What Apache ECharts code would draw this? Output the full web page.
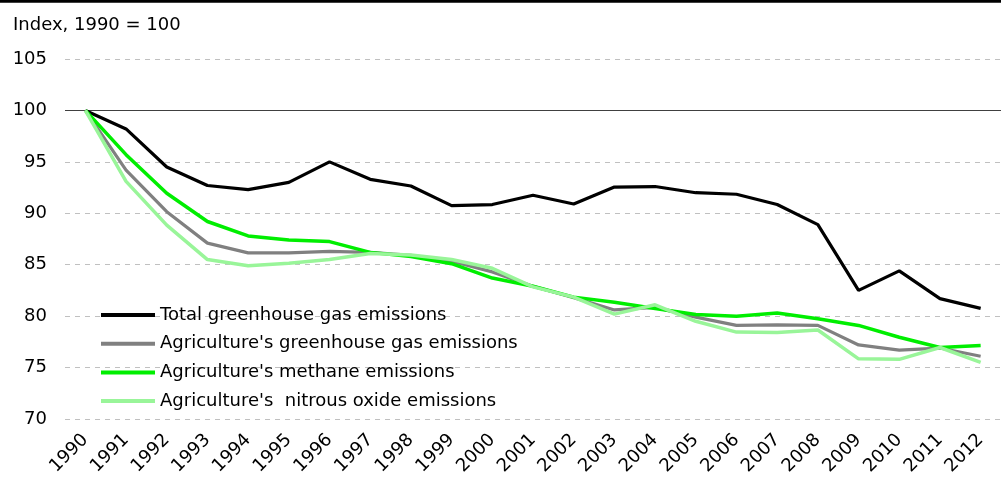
<!DOCTYPE html>
<html>
<head>
<meta charset="utf-8">
<script src="https://cdn.jsdelivr.net/npm/echarts@6/dist/echarts.min.js"></script>
<style>html,body{margin:0;padding:0;background:#fff;}#c{width:1001px;height:479px;}</style>
</head>
<body>
<div id="c"></div>
<script>
const years = ['1990','1991','1992','1993','1994','1995','1996','1997','1998','1999','2000','2001','2002','2003','2004','2005','2006','2007','2008','2009','2010','2011','2012'];
const totalGHG = [100,98.2,94.5,92.7,92.3,93.0,95.0,93.3,92.65,90.75,90.85,91.75,90.9,92.55,92.6,92.0,91.85,90.85,88.9,82.5,84.4,81.7,80.75];
const agriGHG = [100,94.2,90.15,87.1,86.15,86.15,86.3,86.2,85.9,85.35,84.3,82.9,81.8,80.6,80.85,79.9,79.1,79.15,79.1,77.2,76.7,76.9,76.1];
const agriMethane = [100,95.7,91.95,89.2,87.8,87.4,87.25,86.2,85.8,85.1,83.7,82.9,81.85,81.35,80.75,80.15,80.0,80.3,79.75,79.1,77.95,76.95,77.15];
const agriN2O = [100,93.1,88.85,85.5,84.9,85.15,85.5,86.1,85.95,85.5,84.65,82.85,81.85,80.2,81.1,79.5,78.45,78.4,78.65,75.85,75.8,76.95,75.5];
const seriesNames = ['Total greenhouse gas emissions',"Agriculture's greenhouse gas emissions","Agriculture's methane emissions","Agriculture's  nitrous oxide emissions"];
const yTitle = 'Index, 1990 = 100';

const FONT = 'DejaVu Sans';
const FS = 18;
const colors = ['#000000','#808080','#00ee00','#99f599'];
const datasets = [totalGHG, agriGHG, agriMethane, agriN2O];
const widths = [3.2,3.2,3.5,3.5];

const chart = echarts.init(document.getElementById('c'), null, {renderer:'canvas'});
chart.setOption({
  animation:false,
  backgroundColor:'#fff',
  textStyle:{fontFamily:FONT},
  graphic:[
    {type:'rect', shape:{x:0,y:0,width:1001,height:2.7}, style:{fill:'#000'}},
    {type:'text', left:13, top:16, style:{text:yTitle, font:FS+'px "DejaVu Sans"', fill:'#000'}}
  ],
  grid:{left:65, right:-15, top:59, bottom:60, containLabel:false},
  legend:{
    orient:'vertical', left:101, top:305, padding:0,
    itemWidth:54, itemHeight:4, itemGap:8.7, icon:'rect',
    textStyle:{fontFamily:FONT, fontSize:FS, color:'#000', lineHeight:20},
    data:seriesNames
  },
  xAxis:{
    type:'category', data:years, boundaryGap:true,
    axisLine:{show:false}, axisTick:{show:false},
    axisLabel:{rotate:45, margin:18, fontFamily:FONT, fontSize:FS, color:'#000', interval:0}
  },
  yAxis:{
    type:'value', min:70, max:105, interval:5,
    axisLine:{show:false}, axisTick:{show:false},
    axisLabel:{margin:18, fontFamily:FONT, fontSize:FS, color:'#000'},
    splitLine:{lineStyle:{color:'#c0c0c0', type:[5,5], width:1}}
  },
  series: datasets.map((d,i)=>({
    name:seriesNames[i], type:'line', data:d, symbol:'none', smooth:false,
    lineStyle:{color:colors[i], width:widths[i]}, itemStyle:{color:colors[i]},
    z: 2+i,
    markLine: i===0 ? {silent:true, symbol:'none', label:{show:false},
      lineStyle:{color:'#404040', type:'solid', width:1.2}, data:[{yAxis:100}], z:1} : undefined
  }))
});
</script>
</body>
</html>
